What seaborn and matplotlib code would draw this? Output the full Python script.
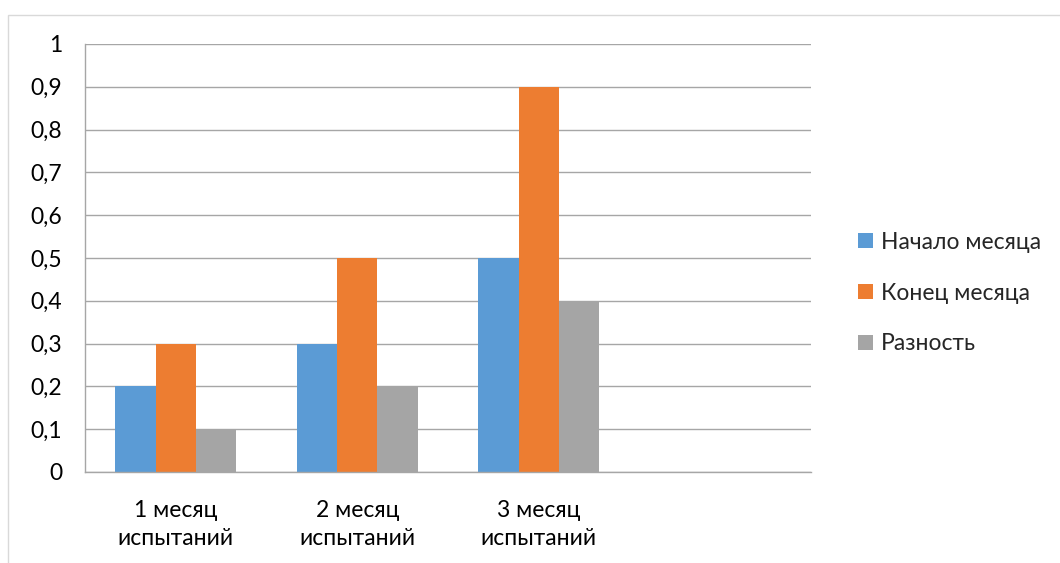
import pandas as pd
import numpy as np
import matplotlib.pyplot as plt
import seaborn as sns
from matplotlib.ticker import FuncFormatter, FixedLocator
from matplotlib.patches import Rectangle

# --- Dados ---
categories = ['1 месяц\nиспытаний', '2 месяц\nиспытаний', '3 месяц\nиспытаний', '']
series = ['Начало месяца', 'Конец месяца', 'Разность']
start_vals = [0.2, 0.3, 0.5]
end_vals = [0.3, 0.5, 0.9]
diff_vals = [0.1, 0.2, 0.4]
colors = ['#5B9BD5', '#ED7D31', '#A5A5A5']

rows = []
for name, vals in zip(series, [start_vals, end_vals, diff_vals]):
    for cat, v in zip(categories[:3], vals):
        rows.append({'cat': cat, 'serie': name, 'val': v})
df = pd.DataFrame(rows)

sns.set_style('white')
plt.rcParams['font.family'] = ['Lato', 'DejaVu Sans']

fig = plt.figure(figsize=(10.6, 5.63), dpi=100)
ax = fig.add_axes([85 / 1060, 1 - 472 / 563, (811 - 85) / 1060, (472 - 44) / 563])

sns.barplot(data=df, x='cat', y='val', hue='serie', order=categories, hue_order=series,
            palette=colors, width=0.667, saturation=1, linewidth=0, ax=ax, legend=True)

ax.set_xlim(-0.5, 3.5)
ax.set_ylim(0, 1)
ax.set_xlabel('')
ax.set_ylabel('')

grid_c = '#A6A6A6'
fs = 16.5
ax.yaxis.set_major_locator(FixedLocator(np.arange(0, 1.01, 0.1)))
ax.yaxis.set_major_formatter(FuncFormatter(lambda v, p: f'{v:.1f}'.rstrip('0').rstrip('.').replace('.', ',') if v != 0 else '0'))
ax.grid(True, axis='y', color=grid_c, lw=1)
ax.set_axisbelow(True)
ax.tick_params(axis='y', length=6.5, width=1, color=grid_c, pad=10, labelsize=fs, labelcolor='black')

# ticks nas fronteiras, rótulos no centro
ax.xaxis.set_major_locator(FixedLocator([-0.5, 0.5, 1.5, 2.5, 3.5]))
ax.xaxis.set_minor_locator(FixedLocator([0, 1, 2, 3]))
ax.set_xticklabels([''] * 5)
ax.set_xticklabels(categories, minor=True, linespacing=1.4)
ax.tick_params(axis='x', which='major', length=6, width=1, color=grid_c, direction='out')
ax.tick_params(axis='x', which='minor', length=0, pad=20, labelsize=fs, labelcolor='black')

for s in ['top', 'right']:
    ax.spines[s].set_visible(False)
for s in ['left', 'bottom']:
    ax.spines[s].set_color(grid_c)
    ax.spines[s].set_linewidth(1)

leg = ax.legend(loc='center left', bbox_to_anchor=(837 / 1060, 1 - 293 / 563), bbox_transform=fig.transFigure,
                frameon=False, fontsize=fs, handlelength=0.65, handleheight=0.65, handletextpad=0.35,
                labelspacing=1.3)

# borda do gráfico
fig.add_artist(Rectangle((8 / 1060, -0.2), 1.2, 1.2 - 15 / 563, transform=fig.transFigure,
                         fill=False, edgecolor='#D9D9D9', lw=1))

plt.savefig('out.png', dpi=100)
plt.close()
